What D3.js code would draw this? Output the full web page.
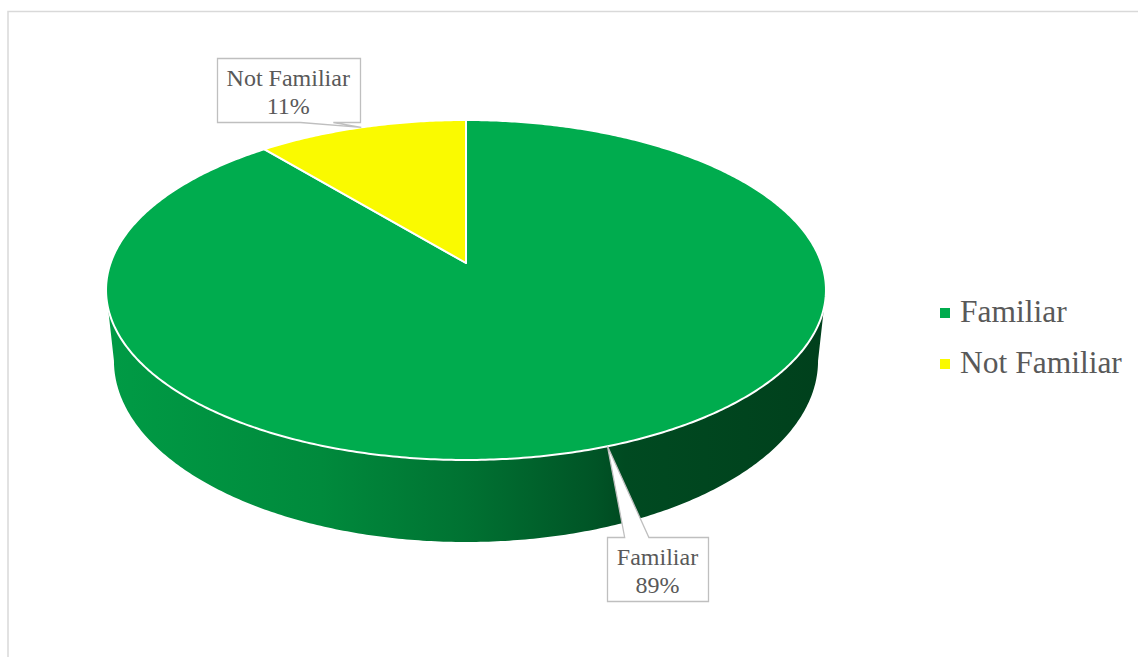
<!DOCTYPE html>
<html>
<head>
<meta charset="utf-8">
<script src="https://cdn.jsdelivr.net/npm/d3@7"></script>
<style>
  body { margin: 0; background: #fff; }
  text { font-family: "Liberation Serif", "Times New Roman", serif; fill: #595959; }
</style>
</head>
<body>
<div id="chart"></div>
<script>
// data
var categories = ["Familiar", "Not Familiar"];
var values = [89, 11];
var pctLabels = ["89%", "11%"];

var colors = ["#00ac4e", "#fafa00"];

var svgwidth = 1138, svgheight = 657;
var svg = d3.select("#chart").append("svg").attr("width", svgwidth).attr("height", svgheight);

// chart border
svg.append("rect").attr("x", 8).attr("y", 11.5).attr("width", 1140).attr("height", 670)
  .attr("fill", "none").attr("stroke", "#d9d9d9").attr("stroke-width", 1.5);

// perspective projection of the pie disc
var x0 = 466, y0 = 263;
var a = 355.4, b = 165.7, k = 0.1588, H = 69;

function proj(theta, r, h) {
  var u = Math.sin(theta) * r, v = -Math.cos(theta) * r;
  var w = 1 - k * v;
  var sx = 1 - 0.022 * h;
  return [x0 + a * u * sx / w, y0 + (b * v + H * h) / w];
}

function arcPts(t0, t1, h) {
  var n = Math.max(2, Math.ceil(Math.abs(t1 - t0) / 0.01));
  return d3.range(n + 1).map(function(i) { return proj(t0 + (t1 - t0) * i / n, 1, h); });
}

var pie = d3.pie().sort(null).value(function(d) { return d; });
var arcs = pie(values);

var defs = svg.append("defs");
var grad = defs.append("linearGradient").attr("id", "sideGrad")
  .attr("gradientUnits", "userSpaceOnUse").attr("x1", 105).attr("x2", 826).attr("y1", 0).attr("y2", 0);
[[0, "#009b45"], [0.3, "#008a3c"], [0.5, "#007232"], [0.68, "#005426"], [0.72, "#004a21"], [1, "#00401c"]]
  .forEach(function(s) { grad.append("stop").attr("offset", s[0]).attr("stop-color", s[1]); });

var line = d3.line();

// sides (front visible part only)
var tL = Math.acos(-k), tR = 2 * Math.PI - Math.acos(-k);
arcs.forEach(function(d, i) {
  var s = Math.max(d.startAngle, tL), e = Math.min(d.endAngle, tR);
  if (e <= s) return;
  var pts = arcPts(s, e, 0).concat(arcPts(e, s, 1));
  svg.append("path").attr("d", line(pts) + "Z")
    .attr("fill", i === 0 ? "url(#sideGrad)" : d3.color(colors[i]).darker(1.2))
    .attr("stroke", "none");
});

// top faces
var centerPt = proj(0, 0, 0);
arcs.forEach(function(d, i) {
  var pts = [centerPt].concat(arcPts(d.startAngle, d.endAngle, 0));
  svg.append("path").attr("d", line(pts) + "Z")
    .attr("fill", colors[i]).attr("stroke", "#fff").attr("stroke-width", 2)
    .attr("stroke-linejoin", "round");
});

// data labels with callouts
var labelOffsets = [[50, 123], [-73, -37]];
var wedge = [[0.17, 0.41], [0.58, 0.81]];
var lblFont = 24, lineH = 28, pad = 10;

arcs.forEach(function(d, i) {
  var mid = (d.startAngle + d.endAngle) / 2;
  var p = proj(mid, 1, 0);
  var cx = p[0] + labelOffsets[i][0], cy = p[1] + labelOffsets[i][1];
  var g = svg.append("g");
  var box = g.append("path");
  var t = g.append("text").attr("text-anchor", "middle").attr("font-size", lblFont);
  t.append("tspan").attr("x", cx).attr("y", cy - 4).text(categories[i]);
  t.append("tspan").attr("x", cx).attr("y", cy - 4 + lineH).text(pctLabels[i]);
  var tw = t.node().getBBox().width;
  var w = Math.round(tw + 2 * pad), h = 64;
  var L = Math.round(cx - w / 2) + 0.5, T = Math.round(cy - h / 2) + 0.5, R = L + w, B = T + h;
  var wa = L + w * wedge[i][0], wb = L + w * wedge[i][1];
  var dstr;
  if (p[1] > B) {
    dstr = "M" + L + "," + T + "H" + R + "V" + B + "H" + wb + "L" + p[0] + "," + p[1] + "L" + wa + "," + B + "H" + L + "Z";
  } else {
    dstr = "M" + L + "," + T + "H" + wa + "L" + p[0] + "," + p[1] + "L" + wb + "," + T + "H" + R + "V" + B + "H" + L + "Z";
  }
  box.attr("d", dstr).attr("fill", "#fff").attr("stroke", "#bfbfbf").attr("stroke-width", 1.3);
});

// legend
var legend = svg.append("g");
categories.forEach(function(c, i) {
  var y = 322 + i * 51;
  legend.append("rect").attr("x", 940).attr("y", y - 14).attr("width", 10).attr("height", 10)
    .attr("fill", colors[i]);
  legend.append("text").attr("x", 960).attr("y", y).attr("font-size", 31.5).text(c);
});
</script>
</body>
</html>
